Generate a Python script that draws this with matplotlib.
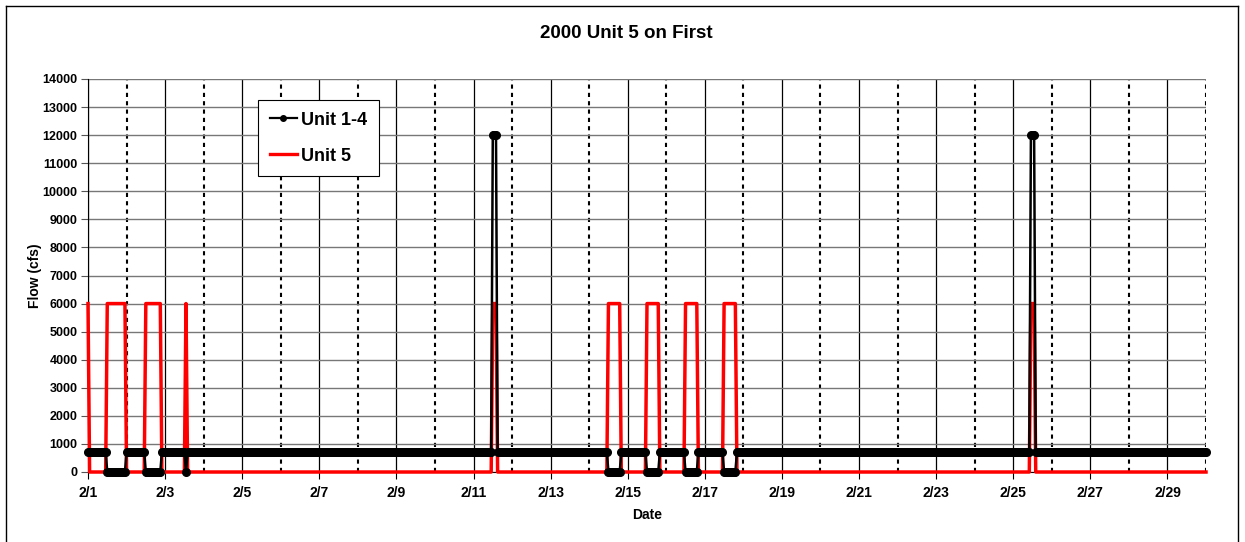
import numpy as np
import matplotlib
matplotlib.use('Agg')
import matplotlib.pyplot as plt
from matplotlib.lines import Line2D

plt.rcParams['font.family'] = ['Liberation Sans', 'DejaVu Sans']
plt.rcParams['font.weight'] = 'bold'

# hourly flow, as runs: (first hour, last hour, flow cfs)
# hour 0 = 2/1 00:00, hour 696 = 3/1 00:00
unit14_runs = [(0, 11, 700), (12, 23, 0), (24, 35, 700), (36, 45, 0), (46, 60, 700),
               (61, 61, 0), (62, 251, 700), (252, 254, 12000), (255, 323, 700),
               (324, 331, 0), (332, 347, 700), (348, 355, 0), (356, 371, 700),
               (372, 379, 0), (380, 395, 700), (396, 403, 0), (404, 586, 700),
               (587, 589, 12000), (590, 696, 700)]
unit5_runs = [(0, 0, 6000), (1, 11, 0), (12, 23, 6000), (24, 35, 0), (36, 45, 6000),
              (46, 60, 0), (61, 61, 6000), (62, 251, 0), (252, 254, 6000),
              (255, 323, 0), (324, 331, 6000), (332, 347, 0), (348, 355, 6000),
              (356, 371, 0), (372, 379, 6000), (380, 395, 0), (396, 403, 6000),
              (404, 586, 0), (587, 589, 6000), (590, 696, 0)]

date_labels = ['2/1', '2/3', '2/5', '2/7', '2/9', '2/11', '2/13', '2/15',
               '2/17', '2/19', '2/21', '2/23', '2/25', '2/27', '2/29']


def expand(runs):
    hours, flows = [], []
    for a, b, v in runs:
        for h in range(a, b + 1):
            hours.append(h)
            flows.append(v)
    return np.array(hours), np.array(flows)


h14, q14 = expand(unit14_runs)
h5, q5 = expand(unit5_runs)

fig = plt.figure(figsize=(12.45, 5.42), dpi=100)
ax = fig.add_axes([88 / 1245, 1 - 472 / 542, 1118 / 1245, 393 / 542])

ax.plot(h5, q5, color='#ff0000', lw=2.5, zorder=3, label='Unit 5', clip_on=False)
ax.plot(h14, q14, color='black', lw=1.8, marker='o', ms=5.5, zorder=4,
        label='Unit 1-4', clip_on=False)

ax.set_xlim(0, 696)
ax.set_ylim(0, 14000)
ax.set_yticks(range(0, 14001, 1000))
ax.set_xticks(np.arange(0, 697, 48))
ax.set_xticklabels(date_labels, fontsize=10, fontweight='bold')
ax.set_xticks(np.arange(24, 697, 48), minor=True)
ax.tick_params(axis='y', labelsize=9, length=5, pad=2.5, color='#555555')
ax.tick_params(axis='x', which='major', length=5, pad=5)
ax.tick_params(axis='x', which='minor', length=0)
for lbl in ax.get_yticklabels():
    lbl.set_fontweight('bold')

ax.grid(axis='y', color='#777777', lw=1)
ax.grid(axis='x', which='major', color='black', lw=0.9)
ax.grid(axis='x', which='minor', color='black', lw=1.5, linestyle=(0, (2, 2)))
ax.set_axisbelow(True)
for s in ['top', 'right']:
    ax.spines[s].set_visible(False)
ax.spines['left'].set_color('black')
ax.spines['bottom'].set_color('black')

ax.set_ylabel('Flow (cfs)', fontsize=10, fontweight='bold', labelpad=0)
ax.set_xlabel('Date', fontsize=10, fontweight='bold', labelpad=6)
fig.text(0.503, 0.939, '2000 Unit 5 on First', ha='center', va='center',
         fontsize=13.5, fontweight='bold')

handles = [Line2D([], [], color='black', lw=1.6, marker='o', ms=4),
           Line2D([], [], color='#ff0000', lw=2.4)]
leg = ax.legend(handles, ['Unit 1-4', 'Unit 5'], loc='upper left',
                bbox_to_anchor=(0.152, 0.947), fancybox=False, shadow=False,
                edgecolor='black', framealpha=1,
                prop={'weight': 'bold', 'size': 13}, handlelength=1.5,
                labelspacing=1.05, borderpad=0.65, handletextpad=0.25,
                borderaxespad=0)
leg.get_frame().set_linewidth(0.8)
leg.set_zorder(10)

# outer chart border
for xs, ys in [([6, 6], [0, 536]), ([6, 1238], [536, 536]), ([1238, 1238], [0, 536])]:
    fig.add_artist(Line2D(np.array(xs) / 1245, np.array(ys) / 542, color='black', lw=1))

fig.savefig('out.png', dpi=100)
